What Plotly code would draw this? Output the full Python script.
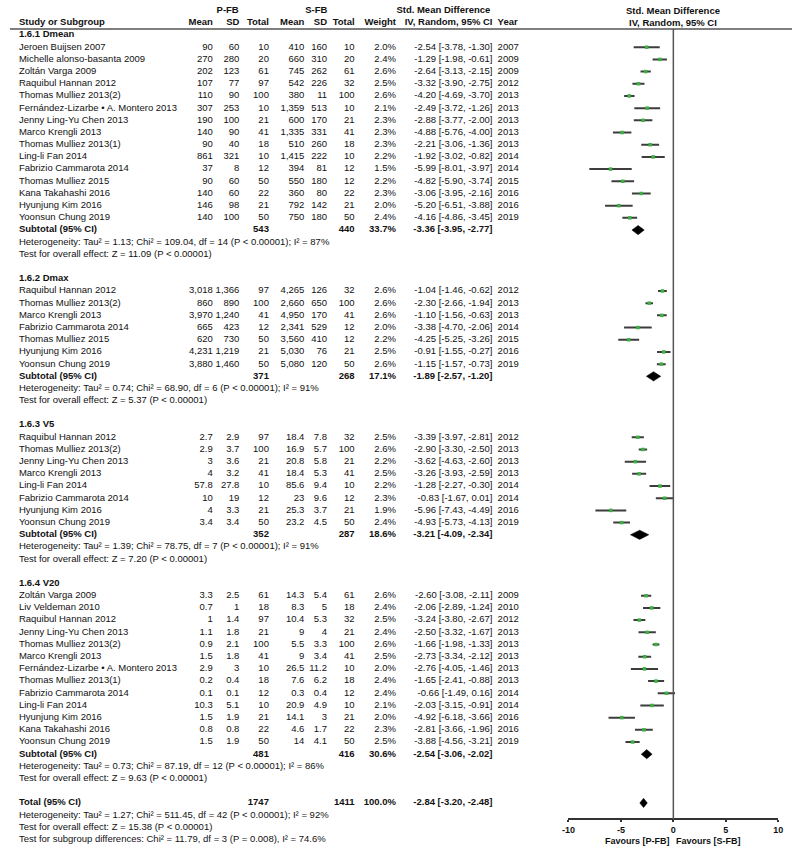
import plotly.graph_objects as go

# study, P-FB mean, sd, total, S-FB mean, sd, total, weight %, SMD, lower, upper, year
dmean = [
    ("Jeroen Buijsen 2007", 90, 60, 10, 410, 160, 10, 2.0, -2.54, -3.78, -1.30, 2007),
    ("Michelle alonso-basanta 2009", 270, 280, 20, 660, 310, 20, 2.4, -1.29, -1.98, -0.61, 2009),
    ("Zoltán Varga 2009", 202, 123, 61, 745, 262, 61, 2.6, -2.64, -3.13, -2.15, 2009),
    ("Raquibul Hannan 2012", 107, 77, 97, 542, 226, 32, 2.5, -3.32, -3.90, -2.75, 2012),
    ("Thomas Mulliez 2013(2)", 110, 90, 100, 380, 11, 100, 2.6, -4.20, -4.69, -3.70, 2013),
    ("Fernández-Lizarbe • A. Montero 2013", 307, 253, 10, 1359, 513, 10, 2.1, -2.49, -3.72, -1.26, 2013),
    ("Jenny Ling-Yu Chen 2013", 190, 100, 21, 600, 170, 21, 2.3, -2.88, -3.77, -2.00, 2013),
    ("Marco Krengli 2013", 140, 90, 41, 1335, 331, 41, 2.3, -4.88, -5.76, -4.00, 2013),
    ("Thomas Mulliez 2013(1)", 90, 40, 18, 510, 260, 18, 2.3, -2.21, -3.06, -1.36, 2013),
    ("Ling-li Fan 2014", 861, 321, 10, 1415, 222, 10, 2.2, -1.92, -3.02, -0.82, 2014),
    ("Fabrizio Cammarota 2014", 37, 8, 12, 394, 81, 12, 1.5, -5.99, -8.01, -3.97, 2014),
    ("Thomas Mulliez 2015", 90, 60, 50, 550, 180, 12, 2.2, -4.82, -5.90, -3.74, 2015),
    ("Kana Takahashi 2016", 140, 60, 22, 360, 80, 22, 2.3, -3.06, -3.95, -2.16, 2016),
    ("Hyunjung Kim 2016", 146, 98, 21, 792, 142, 21, 2.0, -5.20, -6.51, -3.88, 2016),
    ("Yoonsun Chung 2019", 140, 100, 50, 750, 180, 50, 2.4, -4.16, -4.86, -3.45, 2019),
]
dmax = [
    ("Raquibul Hannan 2012", 3018, 1366, 97, 4265, 126, 32, 2.6, -1.04, -1.46, -0.62, 2012),
    ("Thomas Mulliez 2013(2)", 860, 890, 100, 2660, 650, 100, 2.6, -2.30, -2.66, -1.94, 2013),
    ("Marco Krengli 2013", 3970, 1240, 41, 4950, 170, 41, 2.6, -1.10, -1.56, -0.63, 2013),
    ("Fabrizio Cammarota 2014", 665, 423, 12, 2341, 529, 12, 2.0, -3.38, -4.70, -2.06, 2014),
    ("Thomas Mulliez 2015", 620, 730, 50, 3560, 410, 12, 2.2, -4.25, -5.25, -3.26, 2015),
    ("Hyunjung Kim 2016", 4231, 1219, 21, 5030, 76, 21, 2.5, -0.91, -1.55, -0.27, 2016),
    ("Yoonsun Chung 2019", 3880, 1460, 50, 5080, 120, 50, 2.6, -1.15, -1.57, -0.73, 2019),
]
v5 = [
    ("Raquibul Hannan 2012", 2.7, 2.9, 97, 18.4, 7.8, 32, 2.5, -3.39, -3.97, -2.81, 2012),
    ("Thomas Mulliez 2013(2)", 2.9, 3.7, 100, 16.9, 5.7, 100, 2.6, -2.90, -3.30, -2.50, 2013),
    ("Jenny Ling-Yu Chen 2013", 3, 3.6, 21, 20.8, 5.8, 21, 2.2, -3.62, -4.63, -2.60, 2013),
    ("Marco Krengli 2013", 4, 3.2, 41, 18.4, 5.3, 41, 2.5, -3.26, -3.93, -2.59, 2013),
    ("Ling-li Fan 2014", 57.8, 27.8, 10, 85.6, 9.4, 10, 2.2, -1.28, -2.27, -0.30, 2014),
    ("Fabrizio Cammarota 2014", 10, 19, 12, 23, 9.6, 12, 2.3, -0.83, -1.67, 0.01, 2014),
    ("Hyunjung Kim 2016", 4, 3.3, 21, 25.3, 3.7, 21, 1.9, -5.96, -7.43, -4.49, 2016),
    ("Yoonsun Chung 2019", 3.4, 3.4, 50, 23.2, 4.5, 50, 2.4, -4.93, -5.73, -4.13, 2019),
]
v20 = [
    ("Zoltán Varga 2009", 3.3, 2.5, 61, 14.3, 5.4, 61, 2.6, -2.60, -3.08, -2.11, 2009),
    ("Liv Veldeman 2010", 0.7, 1, 18, 8.3, 5, 18, 2.4, -2.06, -2.89, -1.24, 2010),
    ("Raquibul Hannan 2012", 1, 1.4, 97, 10.4, 5.3, 32, 2.5, -3.24, -3.80, -2.67, 2012),
    ("Jenny Ling-Yu Chen 2013", 1.1, 1.8, 21, 9, 4, 21, 2.4, -2.50, -3.32, -1.67, 2013),
    ("Thomas Mulliez 2013(2)", 0.9, 2.1, 100, 5.5, 3.3, 100, 2.6, -1.66, -1.98, -1.33, 2013),
    ("Marco Krengli 2013", 1.5, 1.8, 41, 9, 3.4, 41, 2.5, -2.73, -3.34, -2.12, 2013),
    ("Fernández-Lizarbe • A. Montero 2013", 2.9, 3, 10, 26.5, 11.2, 10, 2.0, -2.76, -4.05, -1.46, 2013),
    ("Thomas Mulliez 2013(1)", 0.2, 0.4, 18, 7.6, 6.2, 18, 2.4, -1.65, -2.41, -0.88, 2013),
    ("Fabrizio Cammarota 2014", 0.1, 0.1, 12, 0.3, 0.4, 12, 2.4, -0.66, -1.49, 0.16, 2014),
    ("Ling-li Fan 2014", 10.3, 5.1, 10, 20.9, 4.9, 10, 2.1, -2.03, -3.15, -0.91, 2014),
    ("Hyunjung Kim 2016", 1.5, 1.9, 21, 14.1, 3, 21, 2.0, -4.92, -6.18, -3.66, 2016),
    ("Kana Takahashi 2016", 0.8, 0.8, 22, 4.6, 1.7, 22, 2.3, -2.81, -3.66, -1.96, 2016),
    ("Yoonsun Chung 2019", 1.5, 1.9, 50, 14, 4.1, 50, 2.5, -3.88, -4.56, -3.21, 2019),
]

group_labels = ["1.6.1 Dmean", "1.6.2 Dmax", "1.6.3 V5", "1.6.4 V20"]
# P total, S total, weight, SMD, lower, upper
subtotals = [
    (543, 440, 33.7, -3.36, -3.95, -2.77),
    (371, 268, 17.1, -1.89, -2.57, -1.20),
    (352, 287, 18.6, -3.21, -4.09, -2.34),
    (481, 416, 30.6, -2.54, -3.06, -2.02),
]
heterogeneity = [
    "Heterogeneity: Tau² = 1.13; Chi² = 109.04, df = 14 (P < 0.00001); I² = 87%",
    "Heterogeneity: Tau² = 0.74; Chi² = 68.90, df = 6 (P < 0.00001); I² = 91%",
    "Heterogeneity: Tau² = 1.39; Chi² = 78.75, df = 7 (P < 0.00001); I² = 91%",
    "Heterogeneity: Tau² = 0.73; Chi² = 87.19, df = 12 (P < 0.00001); I² = 86%",
]
overall_tests = [
    "Test for overall effect: Z = 11.09 (P < 0.00001)",
    "Test for overall effect: Z = 5.37 (P < 0.00001)",
    "Test for overall effect: Z = 7.20 (P < 0.00001)",
    "Test for overall effect: Z = 9.63 (P < 0.00001)",
]
total = (1747, 1411, 100.0, -2.84, -3.20, -2.48)
total_notes = [
    "Heterogeneity: Tau² = 1.27; Chi² = 511.45, df = 42 (P < 0.00001); I² = 92%",
    "Test for overall effect: Z = 15.38 (P < 0.00001)",
    "Test for subgroup differences: Chi² = 11.79, df = 3 (P = 0.008), I² = 74.6%",
]

FONT = "Liberation Sans"
FS = 9.5
TOP, PITCH = 35, 12.19          # pixel centre of row 0, row spacing
W, H = 800, 855
PAD = 3 / 0.8 + 1               # plotly's text offset for an (invisible) size-6 marker


def row_of(px):
    return (px - TOP) / PITCH


# text column anchors (pixels)
NAME_X = 12
RIGHT_COLS = [209, 236, 266, 302, 325, 353]
WEIGHT_X, CI_X, YEAR_X = 395, 493, 498

left, right, center = ([], [], []), ([], [], []), ([], [], [])


def put(store, x, y, t, bold=False):
    shift = -PAD if store is left else PAD if store is right else 0
    store[0].append(x + shift)
    store[1].append(y)
    store[2].append(f"<b>{t}</b>" if bold else t)


def ci_text(m, lo, hi):
    return f"{m:.2f} [{lo:.2f}, {hi:.2f}]"


# headers
put(center, 224, -2, "P-FB", True)
put(center, 314, -2, "S-FB", True)
put(center, 443, -2, "Std. Mean Difference", True)
put(left, NAME_X, -1, "Study or Subgroup", True)
for x, t in zip(RIGHT_COLS, ["Mean", "SD", "Total", "Mean", "SD", "Total"]):
    put(right, x, -1, t, True)
put(right, WEIGHT_X, -1, "Weight", True)
put(right, CI_X, -1, "IV, Random, 95% CI", True)
put(left, YEAR_X, -1, "Year", True)

est_x, est_y, err_lo, err_hi = [], [], [], []
dia_x, dia_y = [], []
HALF = 0.38


def diamond(m, lo, hi, r):
    dia_x.extend([lo, m, hi, m, lo, None])
    dia_y.extend([r, r - HALF, r, r + HALF, r, None])


row = 0
for label, studies, sub, het, test in zip(group_labels, [dmean, dmax, v5, v20],
                                          subtotals, heterogeneity, overall_tests):
    put(left, NAME_X, row, label, True)
    row += 1
    for s in studies:
        put(left, NAME_X, row, s[0])
        for x, v in zip(RIGHT_COLS, s[1:7]):
            put(right, x, row, f"{v:,}")
        put(right, WEIGHT_X, row, f"{s[7]:.1f}%")
        put(right, CI_X, row, ci_text(*s[8:11]))
        put(left, YEAR_X, row, str(s[11]))
        est_x.append(s[8])
        est_y.append(row)
        err_lo.append(s[8] - s[9])
        err_hi.append(s[10] - s[8])
        row += 1
    put(left, NAME_X, row, "Subtotal (95% CI)", True)
    put(right, RIGHT_COLS[2], row, str(sub[0]), True)
    put(right, RIGHT_COLS[5], row, str(sub[1]), True)
    put(right, WEIGHT_X, row, f"{sub[2]:.1f}%", True)
    put(right, CI_X, row, ci_text(*sub[3:6]), True)
    diamond(*sub[3:6], row)
    row += 1
    put(left, NAME_X, row, het)
    row += 1
    put(left, NAME_X, row, test)
    row += 2

put(left, NAME_X, row, "Total (95% CI)", True)
put(right, RIGHT_COLS[2], row, str(total[0]), True)
put(right, RIGHT_COLS[5], row, str(total[1]), True)
put(right, WEIGHT_X, row, f"{total[2]:.1f}%", True)
put(right, CI_X, row, ci_text(*total[3:6]), True)
diamond(*total[3:6], row)
for note in total_notes:
    row += 1
    put(left, NAME_X, row, note)

fig = go.Figure()
for store, pos in [(left, "middle right"), (right, "middle left"), (center, "middle center")]:
    fig.add_trace(go.Scatter(
        x=store[0], y=store[1], text=store[2], mode="markers+text", textposition=pos,
        marker=dict(size=6, opacity=0),
        textfont=dict(family=FONT, size=FS, color="#111"),
        xaxis="x2", yaxis="y", cliponaxis=False, hoverinfo="skip", showlegend=False))

fig.add_trace(go.Scatter(
    x=est_x, y=est_y, mode="markers",
    marker=dict(symbol="square", size=3.5, color="#3cb043"),
    error_x=dict(type="data", symmetric=False, array=err_hi, arrayminus=err_lo,
                 width=0, thickness=2, color="#3d3d3d"),
    xaxis="x", yaxis="y", hoverinfo="skip", showlegend=False, cliponaxis=False))

fig.add_trace(go.Scatter(
    x=dia_x, y=dia_y, mode="lines", fill="toself", fillcolor="#000",
    line=dict(color="#000", width=0.5), xaxis="x", yaxis="y",
    hoverinfo="skip", showlegend=False, cliponaxis=False))

AXIS_PX = 819
ticks = [-10, -5, 0, 5, 10]
fig.update_layout(
    width=W, height=H, margin=dict(l=0, r=0, t=0, b=0),
    paper_bgcolor="white", plot_bgcolor="rgba(0,0,0,0)",
    font=dict(family=FONT, size=FS, color="#111"),
    xaxis=dict(domain=[570 / W, 783 / W], range=[-10, 10], anchor="free",
               position=(H - AXIS_PX) / H, showgrid=False, zeroline=False,
               showline=True, linecolor="#333", linewidth=1.5,
               ticks="outside", ticklen=2, tickwidth=1.5, tickcolor="#333",
               tickvals=ticks, ticktext=[str(t) for t in ticks],
               tickfont=dict(family=FONT, size=9, color="#111", weight="bold")),
    xaxis3=dict(overlaying="x", range=[-10, 10], anchor="free",
                position=(H - AXIS_PX) / H, showgrid=False, zeroline=False,
                showline=False, ticks="inside", ticklen=3, tickwidth=1.5,
                tickcolor="#333", tickvals=ticks, showticklabels=False),
    xaxis2=dict(domain=[0, 1], range=[0, W], anchor="y", visible=False),
    yaxis=dict(domain=[0, 1], range=[row_of(H), row_of(0)], visible=False),
    shapes=[
        dict(type="line", xref="paper", yref="y", x0=3 / W, x1=797 / W,
             y0=row_of(29), y1=row_of(29), line=dict(color="#555", width=1.5)),
        dict(type="line", xref="x", yref="y", x0=0, x1=0,
             y0=row_of(29), y1=row_of(AXIS_PX), line=dict(color="#555", width=1.5)),
    ],
    annotations=[
        dict(text="<b>Std. Mean Difference</b>", x=0, y=-2, xref="x", yref="y",
             showarrow=False, font=dict(family=FONT, size=FS)),
        dict(text="<b>IV, Random, 95% CI</b>", x=0, y=-1, xref="x", yref="y",
             showarrow=False, font=dict(family=FONT, size=FS)),
        dict(text="<b>Favours [P-FB]</b>", x=0, y=row_of(841), xref="x", yref="y",
             xanchor="right", xshift=-1, showarrow=False, font=dict(family=FONT, size=9)),
        dict(text="<b>Favours [S-FB]</b>", x=0, y=row_of(841), xref="x", yref="y",
             xanchor="left", xshift=1, showarrow=False, font=dict(family=FONT, size=9)),
    ],
)

# the page body has a default 8px margin; drop it so the figure sits at the window's corner
fig.write_html("out.html", config={"displayModeBar": False},
               post_script="document.body.style.margin='0';")
